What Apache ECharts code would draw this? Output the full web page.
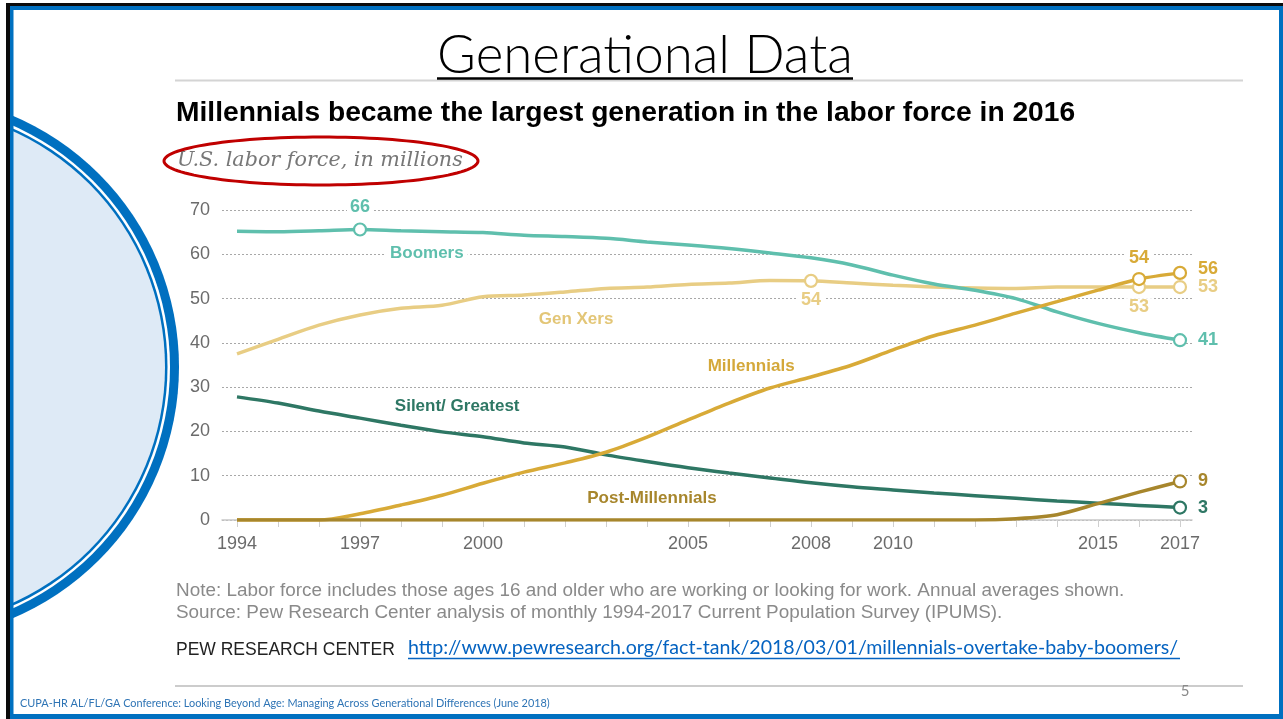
<!DOCTYPE html>
<html>
<head>
<meta charset="utf-8">
<script src="https://cdn.jsdelivr.net/npm/echarts@6/dist/echarts.min.js"></script>
<style>
html,body{margin:0;padding:0;background:#fff;}
#c{width:1283px;height:719px;}
</style>
</head>
<body>
<div id="c"></div>
<script>
// ---------------- DATA ----------------
const years = [1994,1995,1996,1997,1998,1999,2000,2001,2002,2003,2004,2005,2006,2007,2008,2009,2010,2011,2012,2013,2014,2015,2016,2017];
const boomers      = [65.2,65.1,65.3,65.6,65.3,65.1,64.9,64.3,64.0,63.6,62.8,62.1,61.3,60.3,59.2,57.6,55.3,53.3,51.9,50.0,47.0,44.4,42.3,40.6];
const genXers      = [37.5,40.8,44.0,46.3,47.8,48.5,50.4,50.8,51.5,52.3,52.6,53.2,53.5,54.1,54.0,53.5,53.0,52.6,52.4,52.3,52.6,52.6,52.6,52.6];
const millennials  = [0,0,0,1.4,3.4,5.6,8.3,10.8,12.9,15.3,18.7,22.6,26.4,29.8,32.3,35.0,38.4,41.6,44.0,46.7,49.3,51.9,54.4,55.8];
const silent       = [27.8,26.4,24.6,23.0,21.4,19.9,18.8,17.4,16.5,14.7,13.2,11.8,10.6,9.5,8.4,7.5,6.8,6.1,5.5,4.9,4.3,3.8,3.3,2.8];
const postMill     = [0,0,0,0,0,0,0,0,0,0,0,0,0,0,0,0,0,0,0,0.3,1.2,3.7,6.3,8.7];
const seriesNames  = ['Boomers','Gen Xers','Millennials','Silent/ Greatest','Post-Millennials'];
const labeledYears = [1994,1997,2000,2005,2008,2010,2015,2017];
const yTicks       = [0,10,20,30,40,50,60,70];

// --------------- STYLE / LAYOUT ---------------
const SANS = "'Liberation Sans', Arial, sans-serif";
const C = {
  boomers:'#5fbfad', genx:'#e8cd84', mill:'#d8aa37', post:'#a7862c', silent:'#2e7764'
};

function fit(text, style, family, target){
  const cv = document.createElement('canvas').getContext('2d');
  cv.font = style + ' 100px ' + family;
  const w = cv.measureText(text).width;
  return Math.round(100*target/w*10)/10;
}

function lineSeries(name, values, color, marks, z, nameLabel){
  return {
    type:'line', name:name, xAxisIndex:0, yAxisIndex:0, smooth:0.3, symbol:'none', z:z,
    silent:true, animation:false,
    lineStyle:{color:color, width:3.5},
    itemStyle:{color:'#fff', borderColor:color, borderWidth:2.2},
    emphasis:{disabled:true},
    data: years.map(function(y,i){
      const m = marks.find(function(mm){return mm.year===y;});
      if(!m) return [y, values[i]];
      return {
        value:[y, values[i]], symbol:'circle', symbolSize:12,
        label:{show:true, position:m.pos, distance:m.dist==null?5:m.dist, offset:m.offset||[0,0],
          formatter:String(Math.round(values[i])), color:m.color||color, fontSize:18, fontWeight:'bold',
          fontFamily:SANS, backgroundColor:'#fff', padding:[0,3]}
      };
    }),
    markPoint:{
      silent:true, symbol:'circle', symbolSize:0, animation:false,
      data:[{coord:nameLabel.coord, label:{show:true, position:'inside', formatter:nameLabel.text,
        color:nameLabel.color||color, fontSize:17, fontWeight:'bold', fontFamily:SANS,
        backgroundColor:'#fff', padding:[1,4]}}]
    }
  };
}

const chart = echarts.init(document.getElementById('c'), null, {renderer:'canvas'});

// decorative texts sizes fitted to reference widths
const fsSlide = fit('Generational Data', '300', 'Lato', 416);
const fsTitle = fit('Millennials became the largest generation in the labor force in 2016', 'bold', SANS, 900);
const fsSub = fit('U.S. labor force, in millions', 'italic', "'DejaVu Serif'", 286);
const note1 = 'Note: Labor force includes those ages 16 and older who are working or looking for work. Annual averages shown.';
const note2 = 'Source: Pew Research Center analysis of monthly 1994-2017 Current Population Survey (IPUMS).';
const fsNote = fit(note1, '', SANS, 951);
const fsPew = fit('PEW RESEARCH CENTER', '', SANS, 219);
const link = 'http://www.pewresearch.org/fact-tank/2018/03/01/millennials-overtake-baby-boomers/';
const fsLink = fit(link, '', 'Lato', 772);
const footer = 'CUPA-HR AL/FL/GA Conference: Looking Beyond Age: Managing Across Generational Differences (June 2018)';
const fsFoot = fit(footer, '', 'Lato', 530);

// ellipse points
const ell = [];
for(let k=0;k<120;k++){const t=k/120*Math.PI*2; ell.push([321+157*Math.cos(t), 161+24*Math.sin(t)]);}

const CX=-94, CY=367;

const option = {
  animation:false,
  backgroundColor:'#fff',
  grid:[
    {left:237, right:103, top:210, bottom:199},
    {left:222, right:91, top:210, bottom:199}
  ],
  xAxis:[
    {type:'value', gridIndex:0, min:1994, max:2017, interval:1,
     axisLine:{show:false},
     axisTick:{show:true, length:7, lineStyle:{color:'#cfcfcf', width:1}},
     splitLine:{show:false},
     axisLabel:{show:true, margin:15, color:'#6b6b6b', fontSize:18, fontFamily:SANS, showMinLabel:true, showMaxLabel:true,
       formatter:function(v){return labeledYears.indexOf(v)>=0?String(v):'';}}},
    {type:'value', gridIndex:1, min:0, max:1,
     axisLine:{show:true, lineStyle:{color:'#c8c8c8', width:1.5}},
     axisTick:{show:false}, axisLabel:{show:false}, splitLine:{show:false}}
  ],
  yAxis:[
    {type:'value', gridIndex:0, min:0, max:70, interval:10, show:false, splitLine:{show:false}},
    {type:'value', gridIndex:1, min:0, max:70, interval:10,
     axisLine:{show:false}, axisTick:{show:false},
     axisLabel:{color:'#6b6b6b', fontSize:18, fontFamily:SANS, margin:12,
       formatter:function(v){return yTicks.indexOf(v)>=0?String(v):'';}},
     splitLine:{show:true, lineStyle:{color:'#a8a8a8', type:[2,2], width:1}}}
  ],
  series:[
    lineSeries('Gen Xers', genXers, C.genx,
      [{year:2008,pos:'bottom',dist:3},{year:2016,pos:'bottom',dist:4},{year:2017,pos:'right',dist:8}], 3,
      {coord:[2002.27,45.4], text:seriesNames[1], color:'#e3c677'}),
    lineSeries('Boomers', boomers, C.boomers,
      [{year:1997,pos:'top',dist:6},{year:2017,pos:'right',dist:8}], 4,
      {coord:[1998.63,60.3], text:seriesNames[0]}),
    lineSeries('Silent/Greatest', silent, C.silent,
      [{year:2017,pos:'right',dist:8}], 5,
      {coord:[1999.37,25.7], text:seriesNames[3]}),
    lineSeries('Millennials', millennials, C.mill,
      [{year:2016,pos:'top',dist:5},{year:2017,pos:'right',dist:8,offset:[0,-4]}], 6,
      {coord:[2006.54,34.8], text:seriesNames[2], color:'#d4a83a'}),
    lineSeries('Post-Millennials', postMill, C.post,
      [{year:2017,pos:'right',dist:8}], 7,
      {coord:[2004.12,5.0], text:seriesNames[4]})
  ],
  graphic:[
    // left decorative half circle
    {type:'circle', silent:true, z:1, shape:{cx:CX, cy:CY, r:273}, style:{fill:'#0070c0'}},
    {type:'circle', silent:true, z:1, shape:{cx:CX, cy:CY, r:264}, style:{fill:'#ffffff'}},
    {type:'circle', silent:true, z:1, shape:{cx:CX, cy:CY, r:261.5}, style:{fill:'#0070c0'}},
    {type:'circle', silent:true, z:1, shape:{cx:CX, cy:CY, r:259}, style:{fill:'#deeaf6'}},
    {type:'rect', silent:true, z:1, shape:{x:0, y:0, width:6, height:719}, style:{fill:'#fff'}},
    // frame
    {type:'rect', silent:true, z:1, shape:{x:6, y:3, width:1277, height:3}, style:{fill:'#0b0b0b'}},
    {type:'rect', silent:true, z:1, shape:{x:6, y:3, width:4, height:716}, style:{fill:'#0b0b0b'}},
    {type:'rect', silent:true, z:1, shape:{x:10, y:6, width:1273, height:4}, style:{fill:'#0070c0'}},
    {type:'rect', silent:true, z:1, shape:{x:10, y:6, width:3.5, height:713}, style:{fill:'#0070c0'}},
    {type:'rect', silent:true, z:1, shape:{x:1279, y:6, width:4, height:713}, style:{fill:'#0070c0'}},
    {type:'rect', silent:true, z:1, shape:{x:10, y:714, width:1273, height:5}, style:{fill:'#0070c0'}},
    // slide title
    {type:'line', silent:true, z:1, shape:{x1:175, y1:80.5, x2:1243, y2:80.5}, style:{stroke:'#d4d4d4', lineWidth:2}},
    {type:'text', silent:true, z:2, x:645, y:82, style:{text:'Generational Data', font:'300 '+fsSlide+'px Lato', fill:'#000', textAlign:'center', textVerticalAlign:'bottom', align:'center', verticalAlign:'bottom'}},
    {type:'line', silent:true, z:2, shape:{x1:437, y1:78.5, x2:853, y2:78.5}, style:{stroke:'#000', lineWidth:2.5}},
    // chart titles
    {type:'text', silent:true, z:2, x:176, y:113, style:{text:'Millennials became the largest generation in the labor force in 2016', font:'bold '+fsTitle+'px '+SANS, fill:'#000', textAlign:'left', textVerticalAlign:'middle', align:'left', verticalAlign:'middle'}},
    {type:'text', silent:true, z:2, x:177, y:161, style:{text:'U.S. labor force, in millions', font:'italic '+fsSub+"px 'DejaVu Serif'", fill:'#777', textAlign:'left', textVerticalAlign:'middle', align:'left', verticalAlign:'middle'}},
    {type:'polygon', silent:true, z:2, shape:{points:ell, smooth:0}, style:{fill:'none', stroke:'#c00000', lineWidth:3}},
    // notes
    {type:'text', silent:true, z:2, x:176, y:591, style:{text:note1, font:fsNote+'px '+SANS, fill:'#8a8a8a', textAlign:'left', textVerticalAlign:'middle', align:'left', verticalAlign:'middle'}},
    {type:'text', silent:true, z:2, x:176, y:613, style:{text:note2, font:fsNote+'px '+SANS, fill:'#8a8a8a', textAlign:'left', textVerticalAlign:'middle', align:'left', verticalAlign:'middle'}},
    {type:'text', silent:true, z:2, x:176, y:650, style:{text:'PEW RESEARCH CENTER', font:fsPew+'px '+SANS, fill:'#222', textAlign:'left', textVerticalAlign:'middle', align:'left', verticalAlign:'middle'}},
    {type:'text', silent:true, z:2, x:408, y:648, style:{text:link, font:fsLink+'px Lato', fill:'#0563c1', textAlign:'left', textVerticalAlign:'middle', align:'left', verticalAlign:'middle'}},
    {type:'line', silent:true, z:2, shape:{x1:408, y1:658.5, x2:1180, y2:658.5}, style:{stroke:'#0563c1', lineWidth:1.5}},
    // footer
    {type:'line', silent:true, z:1, shape:{x1:175, y1:686, x2:1243, y2:686}, style:{stroke:'#cccccc', lineWidth:2}},
    {type:'text', silent:true, z:2, x:1185, y:691, style:{text:'5', font:'15px Lato', fill:'#8a8a8a', textAlign:'center', textVerticalAlign:'middle', align:'center', verticalAlign:'middle'}},
    {type:'text', silent:true, z:2, x:20, y:703, style:{text:footer, font:fsFoot+'px Lato', fill:'#2e74b5', textAlign:'left', textVerticalAlign:'middle', align:'left', verticalAlign:'middle'}}
  ]
};
chart.setOption(option);
</script>
</body>
</html>
